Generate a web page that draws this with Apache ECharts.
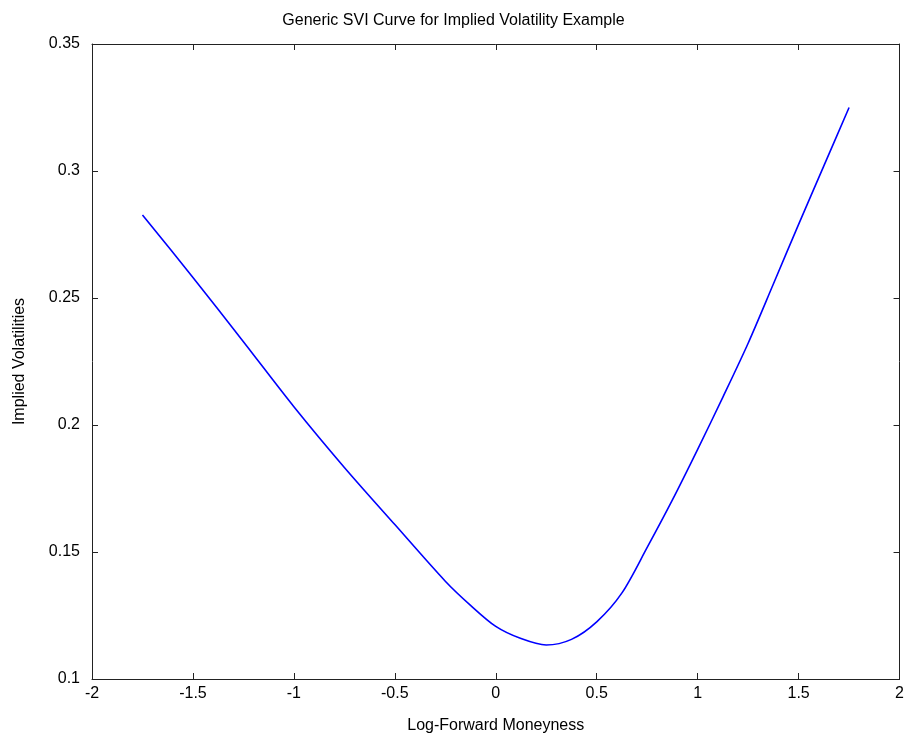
<!DOCTYPE html>
<html>
<head>
<meta charset="utf-8">
<script src="https://cdn.jsdelivr.net/npm/echarts@6/dist/echarts.min.js"></script>
<style>
html,body{margin:0;padding:0;background:#fff;}
#chart{width:907px;height:740px;}
</style>
</head>
<body>
<div id="chart"></div>
<script>
// Log-forward moneyness (x) and implied volatility (y)
var moneyness = [-1.75, -1.5, -1.25, -1.0, -0.75, -0.5, -0.25, -0.125, 0.0, 0.125, 0.25, 0.375, 0.5, 0.625, 0.75, 0.875, 1.0, 1.125, 1.25, 1.375, 1.5, 1.625, 1.75];
var impliedVol = [0.2827, 0.2581, 0.2328, 0.2072, 0.1833, 0.1608, 0.1385, 0.1290, 0.1207, 0.1159, 0.1134, 0.1156, 0.1225, 0.1339, 0.1518, 0.1705, 0.1904, 0.2110, 0.2322, 0.2555, 0.2790, 0.3020, 0.3250];
var xTicks = [-2, -1.5, -1, -0.5, 0, 0.5, 1, 1.5, 2];
var yTicks = [0.1, 0.15, 0.2, 0.25, 0.3, 0.35];

var titleText = 'Generic SVI Curve for Implied Volatility Example';
var xName = 'Log-Forward Moneyness';
var yName = 'Implied Volatilities';

var font = 'Liberation Sans, Arial, sans-serif';
var pts = moneyness.map(function (x, i) { return [x, impliedVol[i]]; });

var chart = echarts.init(document.getElementById('chart'), null, {renderer: 'canvas'});
var axisLine = {show: true, onZero: false, lineStyle: {color: '#222', width: 1}};
var tick = {show: true, inside: true, length: 6, lineStyle: {color: '#222', width: 1}};
chart.setOption({
  animation: false,
  backgroundColor: '#ffffff',
  title: {
    text: titleText, left: 'center', top: 8,
    textStyle: {fontFamily: font, fontSize: 16, fontWeight: 'normal', color: '#000'}
  },
  grid: {left: 92, right: 3, top: 44, bottom: 61, containLabel: false},
  xAxis: [{
    type: 'value', min: -2, max: 2, interval: 0.5,
    axisLine: axisLine, axisTick: tick, splitLine: {show: false},
    axisLabel: {fontFamily: font, fontSize: 16, color: '#000', margin: 7,
      formatter: function (v) { return String(v); }},
    name: xName, nameLocation: 'middle', nameGap: 39,
    nameTextStyle: {fontFamily: font, fontSize: 16, color: '#000'}
  }, {
    type: 'value', position: 'top', min: -2, max: 2, interval: 0.5,
    axisLine: axisLine, axisTick: tick, axisLabel: {show: false}, splitLine: {show: false}
  }],
  yAxis: [{
    type: 'value', min: 0.1, max: 0.35, interval: 0.05,
    axisLine: axisLine, axisTick: tick, splitLine: {show: false},
    axisLabel: {fontFamily: font, fontSize: 16, color: '#000', margin: 12,
      formatter: function (v) { return String(parseFloat(v.toFixed(2))); }},
    name: yName, nameLocation: 'middle', nameGap: 64, nameRotate: 90,
    nameTextStyle: {fontFamily: font, fontSize: 16, color: '#000'}
  }, {
    type: 'value', position: 'right', min: 0.1, max: 0.35, interval: 0.05,
    axisLine: axisLine, axisTick: tick, axisLabel: {show: false}, splitLine: {show: false}
  }],
  series: [{
    type: 'line', data: pts, xAxisIndex: 0, yAxisIndex: 0,
    smooth: 0.3, showSymbol: false,
    lineStyle: {color: '#0000ff', width: 1.6}
  }]
});
</script>
</body>
</html>
